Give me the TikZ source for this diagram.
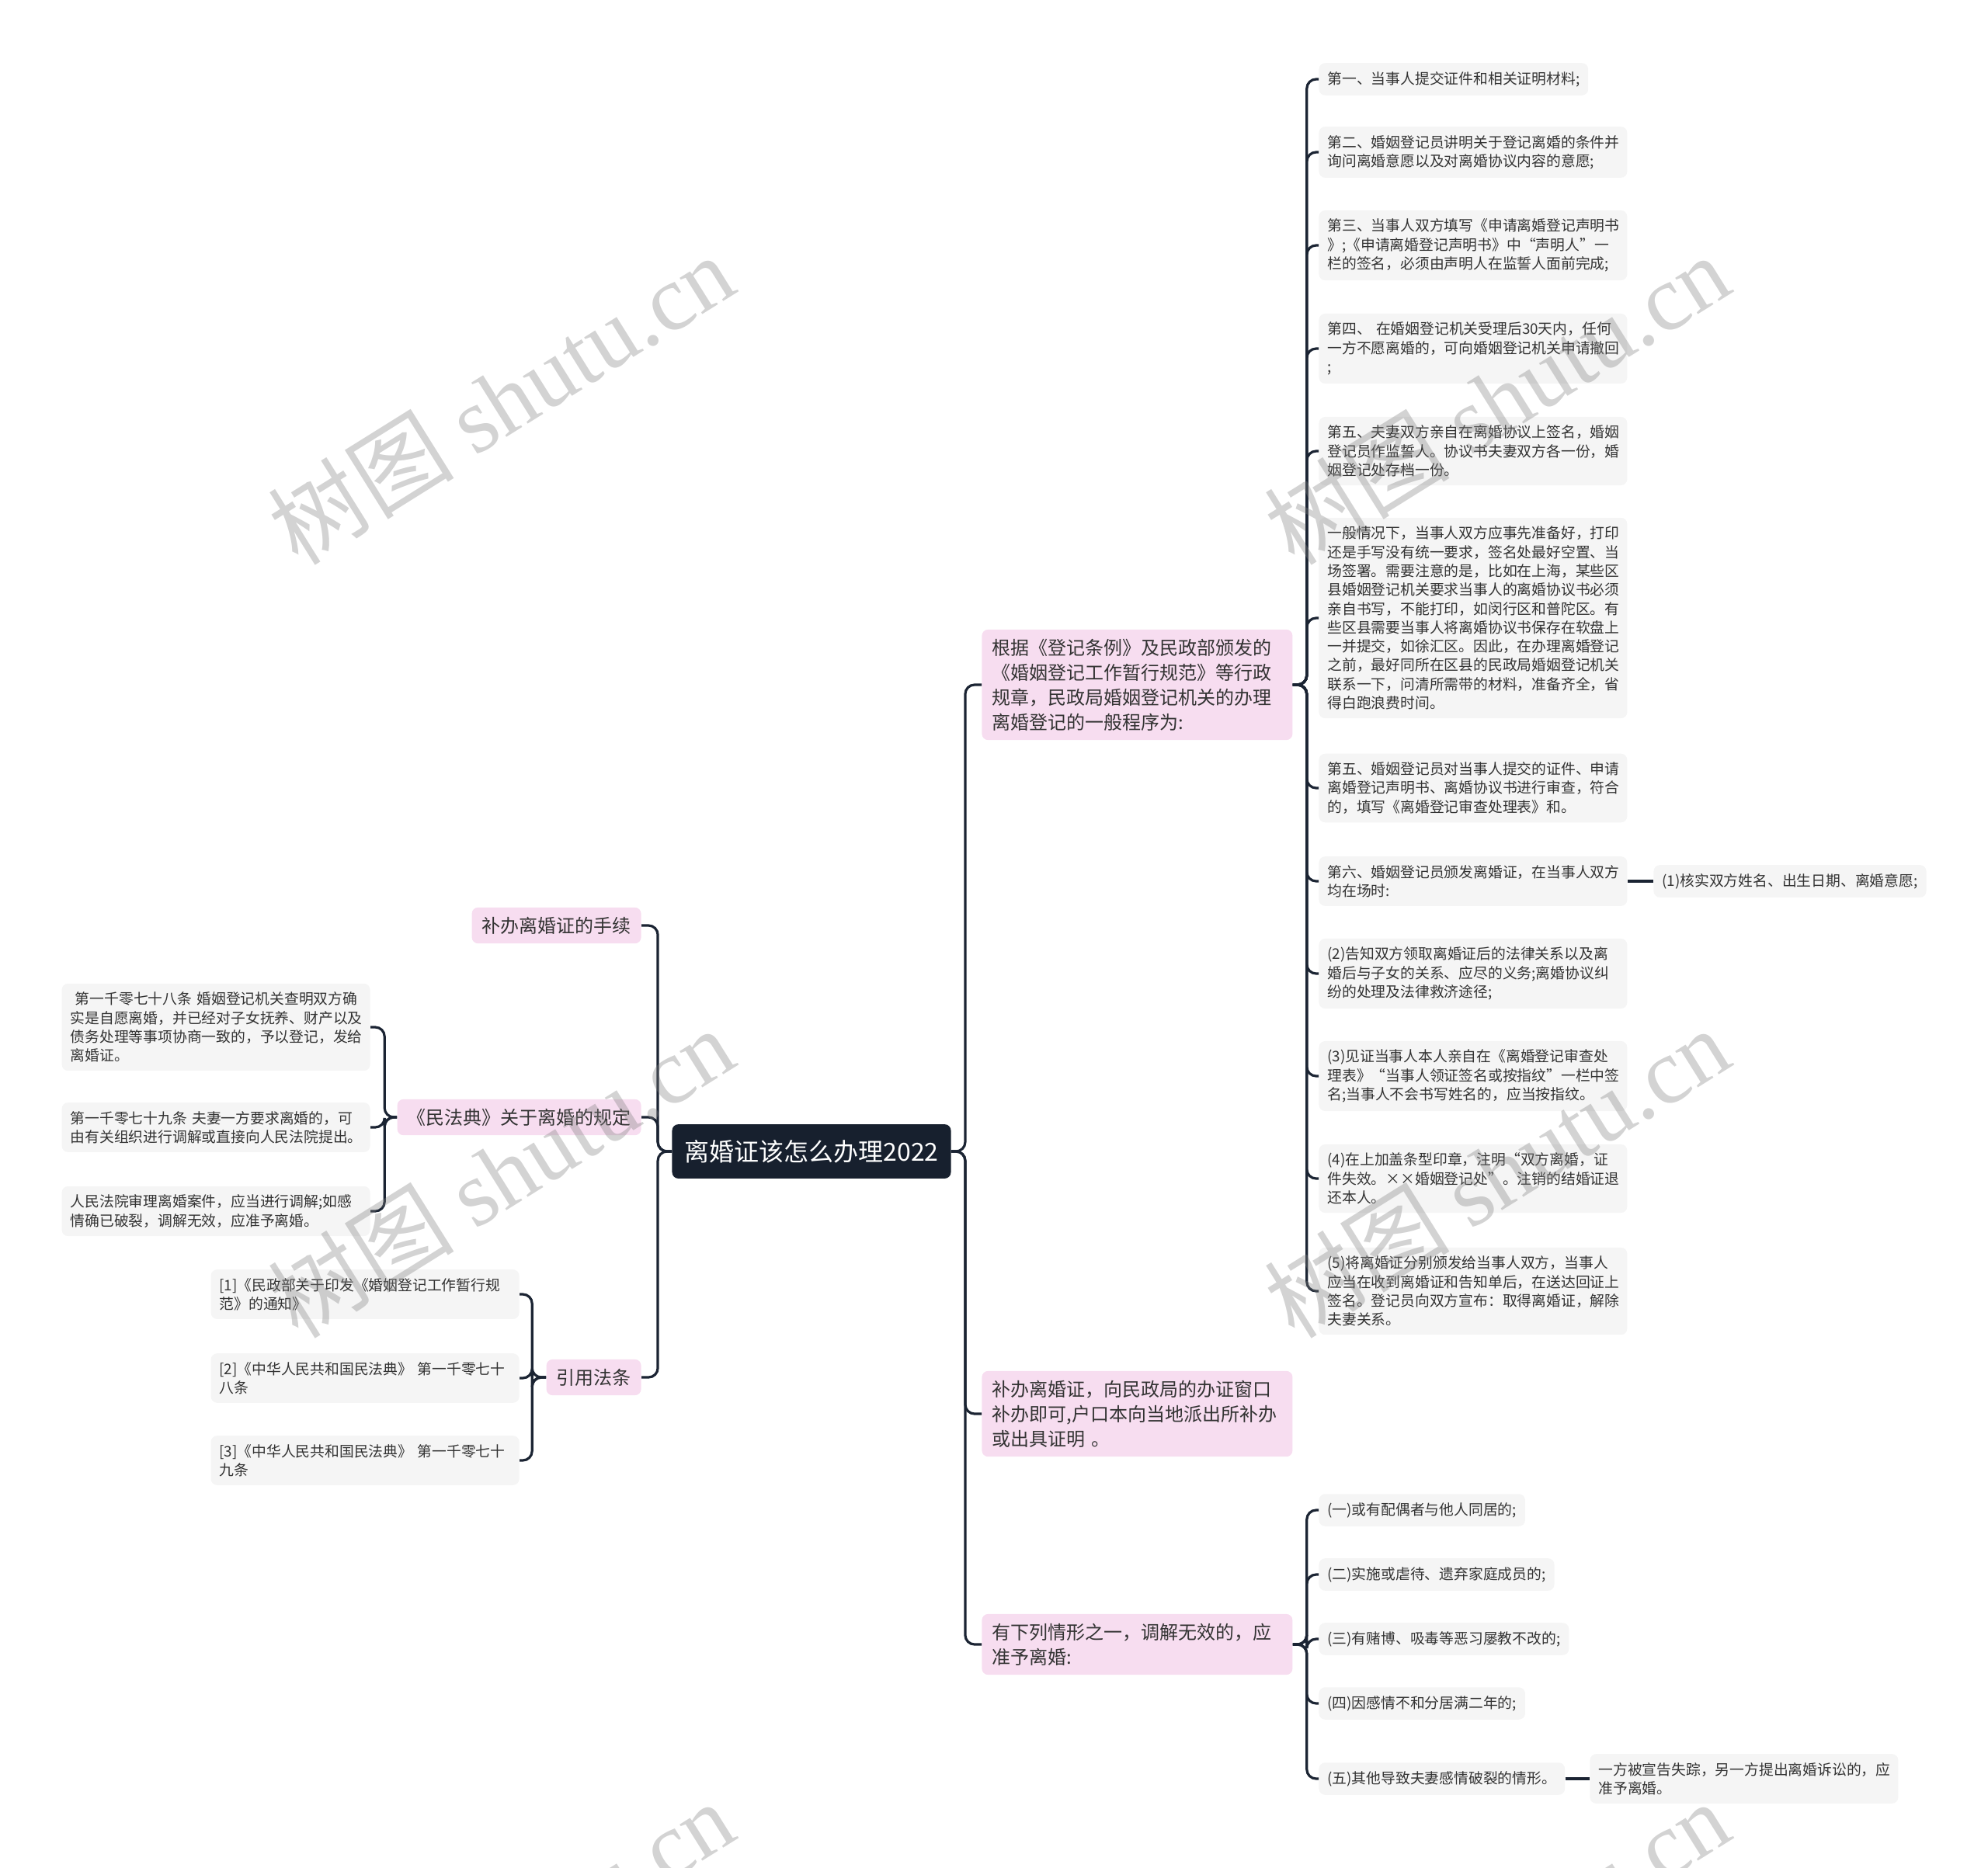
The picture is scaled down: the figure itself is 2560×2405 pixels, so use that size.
\documentclass[tikz,border=0pt]{standalone}
\usepackage{fontspec}
\setmainfont{Noto Sans CJK SC}
\newfontfamily\markfont{Liberation Serif}
\definecolor{rootfill}{HTML}{17202E}
\definecolor{topicfill}{HTML}{F7DDF0}
\definecolor{leaffill}{HTML}{F5F5F5}
\definecolor{linecol}{HTML}{1B2433}
\definecolor{textcol}{HTML}{333333}
\begin{document}
\begin{tikzpicture}[x=0.5pt, y=-0.5pt,
    root/.style={fill=rootfill, text=white, rounded corners=4pt, inner xsep=8pt, inner ysep=10pt, font=\fontsize{16}{20}\selectfont},
    topic/.style={fill=topicfill, text=textcol, rounded corners=4pt, inner xsep=6.5pt, inner ysep=6pt, align=left, font=\fontsize{12}{16}\selectfont},
    leaf/.style={fill=leaffill, text=textcol, rounded corners=4pt, inner xsep=5.5pt, inner ysep=5.5pt, align=left, font=\fontsize{9.4}{12.15}\selectfont},
    wide/.style={leaf, text width=187.5pt},
    link/.style={draw=linecol, line width=1.6pt, rounded corners=6pt},
    wmark/.style={text=gray, opacity=0.35, rotate=32, font=\fontsize{60}{64}\selectfont}]
    \useasboundingbox (0,0) rectangle (2560,2405);

    % central topic
    \node[root] (root) at (1045,1483) {离婚证该怎么办理2022};

    % topics on the right
    \node[topic, text width=187pt, anchor=west] (rt1) at (1264,882) {根据《登记条例》及民政部颁发的\\《婚姻登记工作暂行规范》等行政\\规章，民政局婚姻登记机关的办理\\离婚登记的一般程序为:};
    \node[topic, text width=187pt, anchor=west] (rt2) at (1264,1821) {补办离婚证，向民政局的办证窗口\\补办即可,户口本向当地派出所补办\\或出具证明 。};
    \node[topic, text width=187pt, anchor=west] (rt3) at (1264,2118) {有下列情形之一，调解无效的，应\\准予离婚:};

    % topics on the left
    \node[topic, anchor=east] (lt1) at (826,1192) {补办离婚证的手续};
    \node[topic, anchor=east] (lt2) at (826,1439) {《民法典》关于离婚的规定};
    \node[topic, anchor=east] (lt3) at (826,1774) {引用法条};

    % steps of the procedure
    \node[leaf, anchor=west] (p1) at (1698,102) {第一、当事人提交证件和相关证明材料;};
    \node[wide, anchor=west] (p2) at (1698,196) {第二、婚姻登记员讲明关于登记离婚的条件并\\询问离婚意愿以及对离婚协议内容的意愿;};
    \node[wide, anchor=west] (p3) at (1698,316) {第三、当事人双方填写《申请离婚登记声明书\\》;《申请离婚登记声明书》中“声明人”一\\栏的签名，必须由声明人在监誓人面前完成;};
    \node[wide, anchor=west] (p4) at (1698,449) {第四、 在婚姻登记机关受理后30天内，任何\\一方不愿离婚的，可向婚姻登记机关申请撤回\\;};
    \node[wide, anchor=west] (p5) at (1698,581) {第五、夫妻双方亲自在离婚协议上签名，婚姻\\登记员作监誓人。协议书夫妻双方各一份，婚\\姻登记处存档一份。};
    \node[wide, anchor=west] (p6) at (1698,796) {一般情况下，当事人双方应事先准备好，打印\\还是手写没有统一要求，签名处最好空置、当\\场签署。需要注意的是，比如在上海，某些区\\县婚姻登记机关要求当事人的离婚协议书必须\\亲自书写，不能打印，如闵行区和普陀区。有\\些区县需要当事人将离婚协议书保存在软盘上\\一并提交，如徐汇区。因此，在办理离婚登记\\之前，最好同所在区县的民政局婚姻登记机关\\联系一下，问清所需带的材料，准备齐全，省\\得白跑浪费时间。};
    \node[wide, anchor=west] (p7) at (1698,1015) {第五、婚姻登记员对当事人提交的证件、申请\\离婚登记声明书、离婚协议书进行审查，符合\\的，填写《离婚登记审查处理表》和。};
    \node[wide, anchor=west] (p8) at (1698,1135) {第六、婚姻登记员颁发离婚证，在当事人双方\\均在场时:};
    \node[leaf, anchor=west] (p8c) at (2129,1135) {(1)核实双方姓名、出生日期、离婚意愿;};
    \node[wide, anchor=west] (p9) at (1698,1254) {(2)告知双方领取离婚证后的法律关系以及离\\婚后与子女的关系、应尽的义务;离婚协议纠\\纷的处理及法律救济途径;};
    \node[wide, anchor=west] (p10) at (1698,1386) {(3)见证当事人本人亲自在《离婚登记审查处\\理表》“当事人领证签名或按指纹”一栏中签\\名;当事人不会书写姓名的，应当按指纹。};
    \node[wide, anchor=west] (p11) at (1698,1518) {(4)在上加盖条型印章，注明“双方离婚，证\\件失效。××婚姻登记处”。注销的结婚证退\\还本人。};
    \node[wide, anchor=west] (p12) at (1698,1663) {(5)将离婚证分别颁发给当事人双方，当事人\\应当在收到离婚证和告知单后，在送达回证上\\签名。登记员向双方宣布：取得离婚证，解除\\夫妻关系。};

    % grounds for divorce
    \node[leaf, anchor=west] (q1) at (1698,1945) {(一)或有配偶者与他人同居的;};
    \node[leaf, anchor=west] (q2) at (1698,2028) {(二)实施或虐待、遗弃家庭成员的;};
    \node[leaf, anchor=west] (q3) at (1698,2111) {(三)有赌博、吸毒等恶习屡教不改的;};
    \node[leaf, anchor=west] (q4) at (1698,2194) {(四)因感情不和分居满二年的;};
    \node[leaf, anchor=west] (q5) at (1698,2291) {(五)其他导致夫妻感情破裂的情形。};
    \node[wide, anchor=west] (q5c) at (2047,2291) {一方被宣告失踪，另一方提出离婚诉讼的，应\\准予离婚。};

    % articles of the civil code
    \node[wide, anchor=east] (b1) at (477,1323) {~第一千零七十八条 婚姻登记机关查明双方确\\实是自愿离婚，并已经对子女抚养、财产以及\\债务处理等事项协商一致的，予以登记，发给\\离婚证。};
    \node[wide, anchor=east] (b2) at (477,1452) {第一千零七十九条 夫妻一方要求离婚的，可\\由有关组织进行调解或直接向人民法院提出。};
    \node[wide, anchor=east] (b3) at (477,1560) {人民法院审理离婚案件，应当进行调解;如感\\情确已破裂，调解无效，应准予离婚。};

    % cited laws
    \node[wide, anchor=east] (c1) at (669,1667) {[1]《民政部关于印发《婚姻登记工作暂行规\\范》的通知》};
    \node[wide, anchor=east] (c2) at (669,1775) {[2]《中华人民共和国民法典》 第一千零七十\\八条};
    \node[wide, anchor=east] (c3) at (669,1881) {[3]《中华人民共和国民法典》 第一千零七十\\九条};

    % Draw the branches
    \foreach \t in {rt1,rt2,rt3}
        \draw[link] (root.east) -- ++(18,0) |- (\t.west);
    \foreach \t in {lt1,lt2,lt3}
        \draw[link] (root.west) -- ++(-18,0) |- (\t.east);
    \foreach \i in {1,...,12}
        \draw[link] (rt1.east) -- ++(18,0) |- (p\i.west);
    \foreach \i in {1,...,5}
        \draw[link] (rt3.east) -- ++(18,0) |- (q\i.west);
    \foreach \i in {1,2,3}
        \draw[link] (lt2.west) -- ++(-16,0) |- (b\i.east);
    \foreach \i in {1,2,3}
        \draw[link] (lt3.west) -- ++(-18,0) |- (c\i.east);
    \draw[link] (p8.east) -- (p8c.west);
    \draw[link] (q5.east) -- (q5c.west);

    % watermarks
    \begin{scope}
        \clip (0,0) rectangle (2560,2405);
        \foreach \x/\y [count=\k] in {645/514, 1927/514, 645/1510, 1927/1510, 645/2506, 1927/2506}
            \node[wmark] (wm\k) at (\x,\y) {树图 {\markfont shutu.cn}};
    \end{scope}
\end{tikzpicture}
\end{document}
